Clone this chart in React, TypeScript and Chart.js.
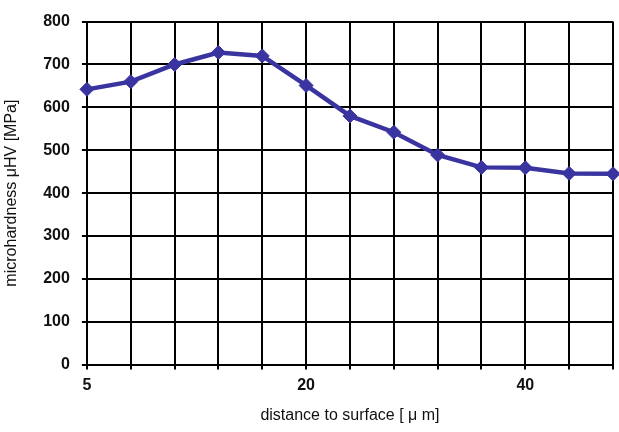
import React, { useEffect, useRef } from "react";
import { Chart, registerables } from "chart.js";

Chart.register(...registerables);

const distances = ["5", "8", "11", "14", "17", "20", "24", "28", "32", "36", "40", "44", "48"];
const microhardness = [642, 660, 700, 728, 720, 651, 580, 542, 489, 460, 459, 446, 445];
const yTicks = { min: 0, max: 800, step: 100 };
const labelEvery = 5;

export default function App() {
  const ref = useRef<HTMLCanvasElement>(null);
  useEffect(() => {
    document.body.style.margin = "0";
    const ctx = ref.current!.getContext("2d")!;
    const chart = new Chart(ctx, {
      type: "line",
      data: {
        labels: distances,
        datasets: [
          {
            data: microhardness,
            borderColor: "#3a34a0",
            backgroundColor: "#3a34a0",
            borderWidth: 4.5,
            pointStyle: "rectRot",
            pointRadius: 7,
            pointBorderWidth: 1,
            tension: 0,
            clip: 10,
          },
        ],
      },
      options: {
        animation: false,
        responsive: false,
        maintainAspectRatio: false,
        layout: { autoPadding: false, padding: { top: 11, right: 6, left: 2, bottom: 7 } },
        plugins: { legend: { display: false }, tooltip: { enabled: false } },
        scales: {
          x: {
            type: "category",
            offset: false,
            grid: { color: "#000", lineWidth: 2, tickLength: 5, drawTicks: true },
            border: { color: "#000", width: 2 },
            ticks: {
              autoSkip: false,
              maxRotation: 0,
              color: "#111",
              padding: 6,
              font: { family: "Liberation Sans", size: 16, weight: "bold" },
              callback: (_v: any, i: number) => (i % labelEvery === 0 ? distances[i] : ""),
            },
            title: {
              display: true,
              text: "distance to surface [ μ m]",
              color: "#111",
              font: { family: "Liberation Sans", size: 16 },
              padding: { top: 5, bottom: 0 },
            },
          },
          y: {
            min: yTicks.min,
            max: yTicks.max,
            grid: { color: "#000", lineWidth: 2, tickLength: 5 },
            border: { color: "#000", width: 2 },
            ticks: {
              stepSize: yTicks.step,
              color: "#111",
              padding: 12,
              font: { family: "Liberation Sans", size: 16, weight: "bold" },
            },
            title: {
              display: true,
              text: "microhardness μHV [MPa]",
              color: "#111",
              font: { family: "Liberation Sans", size: 16 },
              padding: { top: 0, bottom: 10 },
            },
          },
        },
      },
    });
    return () => chart.destroy();
  }, []);
  return (
    <div style={{ width: 619, height: 432, background: "#fff" }}>
      <canvas ref={ref} width={619} height={432} />
    </div>
  );
}
